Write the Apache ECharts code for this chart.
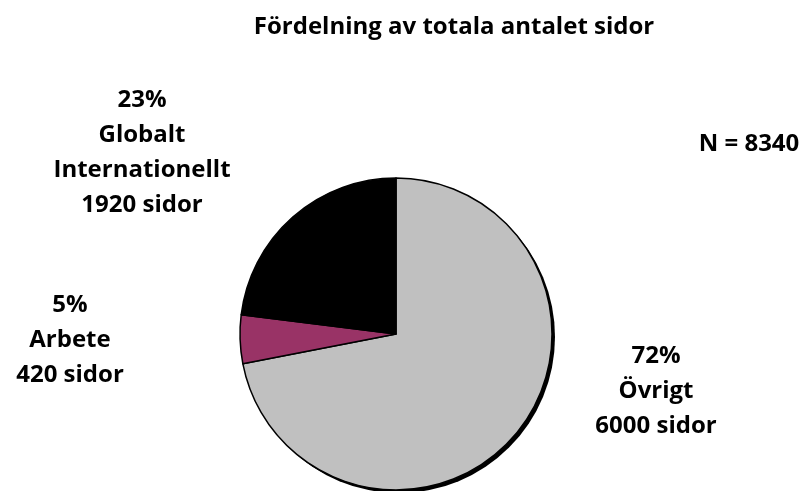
<!DOCTYPE html>
<html>
<head>
<meta charset="utf-8">
<script src="https://cdn.jsdelivr.net/npm/echarts@6/dist/echarts.min.js"></script>
<style>
  html, body { margin: 0; padding: 0; background: #fff; }
  #chart { width: 799px; height: 491px; }
</style>
</head>
<body>
<div id="chart"></div>
<script>
// データ
const categories = ['Övrigt', 'Arbete', 'Globalt\nInternationellt'];
const pages = [6000, 420, 1920];
const sliceColors = ['#C0C0C0', '#993366', '#000000'];
const totalPages = 8340;

// ラベル位置 (テキストのみ)
const labelPos = [
    { x: 656, y: 391 },
    { x: 70, y: 340 },
    { x: 142, y: 153 }
];

const FONT = 'Open Sans';
const pieCenter = [396, 334];
const pieRadius = 156;

const chart = echarts.init(document.getElementById('chart'));

const seriesData = categories.map((name, i) => ({
    name: name,
    value: pages[i],
    itemStyle: { color: sliceColors[i] }
}));

const option = {
    animation: false,
    backgroundColor: '#fff',
    title: [
        {
            text: 'Fördelning av totala antalet sidor',
            left: 449,
            top: 10,
            textAlign: 'center',
            textStyle: {
                fontFamily: FONT,
                fontWeight: 'bold',
                fontSize: 24,
                color: '#000'
            }
        },
        {
            text: 'N = ' + totalPages,
            left: 744,
            top: 127,
            textAlign: 'center',
            textStyle: {
                fontFamily: FONT,
                fontWeight: 'bold',
                fontSize: 24,
                color: '#000'
            }
        }
    ],
    series: [
        // 影 (円全体を少しずらして下に敷く)
        {
            type: 'pie',
            silent: true,
            z: 1,
            center: [pieCenter[0] + 3, pieCenter[1] + 3],
            radius: pieRadius,
            data: [{ value: totalPages, itemStyle: { color: '#000' } }],
            label: { show: false },
            labelLine: { show: false }
        },
        {
            type: 'pie',
            z: 2,
            center: pieCenter,
            radius: pieRadius,
            startAngle: 90,
            clockwise: true,
            percentPrecision: 0,
            data: seriesData,
            itemStyle: {
                borderColor: '#000',
                borderWidth: 1.5
            },
            label: {
                show: true,
                position: 'outside',
                formatter: p => p.percent + '%\n' + p.name + '\n' + p.value + ' sidor',
                fontFamily: FONT,
                fontWeight: 'bold',
                fontSize: 24,
                lineHeight: 35,
                color: '#000',
                align: 'center'
            },
            labelLine: { show: false },
            labelLayout: params => ({
                x: labelPos[params.dataIndex].x,
                y: labelPos[params.dataIndex].y,
                align: 'center',
                verticalAlign: 'middle'
            }),
            emphasis: { disabled: true }
        }
    ]
};

chart.setOption(option);
</script>
</body>
</html>
